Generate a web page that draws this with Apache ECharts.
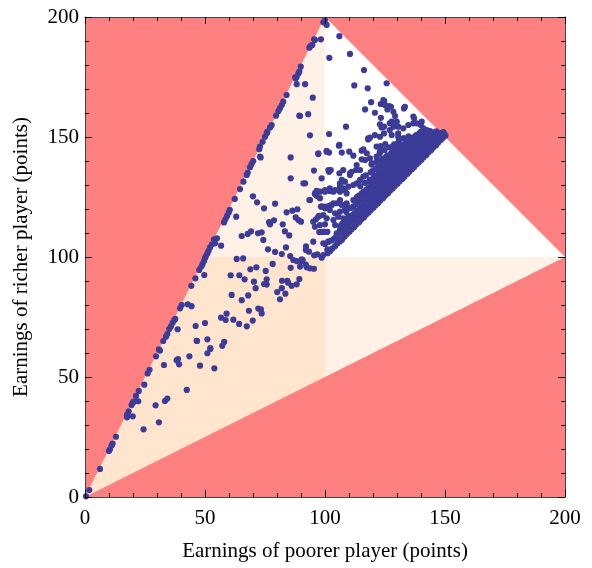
<!DOCTYPE html>
<html><head><meta charset="utf-8">
<script src="https://cdn.jsdelivr.net/npm/echarts@6/dist/echarts.min.js"></script>
<style>html,body{margin:0;padding:0;background:#fff}#c{width:592px;height:568px}</style>
</head><body><div id="c"></div>
<script>
const xTicks = [0, 50, 100, 150, 200];
const yTicks = [0, 50, 100, 150, 200];
const xTitle = 'Earnings of poorer player (points)';
const yTitle = 'Earnings of richer player (points)';

// background regions (data-space vertices)
const redUpperLeft = [[0,0],[100,200],[0,200]];
const redLowerRight = [[0,0],[200,0],[200,100]];
const redUpperRight = [[100,200],[200,200],[200,100]];
const peachUpper = [[0,100],[100,100],[100,200],[0,200]];
const peachRight = [[100,0],[200,0],[200,100],[100,100]];
const peachCorner = [[0,0],[100,0],[100,100],[0,100]];

// observed points: along the y = 2x edge
const diagonalPoints = [[0.4,0.3],[1.8,2.9],[6.25,11.7],[10,19.2],[10.4,19.9],[11.1,21.5],[11.5,22.2],[12.9,25.1],[17.5,34.2],[17.5,33.2],[18.2,35.7],[19.4,38.3],[19.9,39.3],[20.3,39.7],[21.25,42.1],[22.4,44.2],[24.7,46.8],[26.1,51.5],[26.9,53],[29.6,58.6],[31.25,61],[30.8,61.5],[32.6,65],[33.75,66.8],[34.3,67.9],[35.1,70],[35.8,71],[36.5,72.6],[37.2,73.75],[37.6,74.2],[39.6,78.6],[40.3,80],[44.3,88],[46,91.1],[47.6,94.6],[48.5,96],[49,97.1],[49.6,98.3],[50,99.5],[50.4,100.4],[51,101.5],[51.5,102.6],[52.1,104],[52.9,105.3],[53.75,107.4],[55,107.8],[54.2,105.7],[57.9,114.4],[58.5,115.7],[59.2,117.1],[59.9,118.5],[60.3,119.6],[62.4,124.2],[64.6,128.3],[66,131.4],[67.4,134.2],[67.8,135.1],[68.75,137.4],[69.4,138.75],[70.1,140],[72.6,144.9],[72.9,146],[74,148],[75,150.1],[75.7,151.5],[77.1,154],[77.8,155],[76,152.2],[79.6,158.9],[80.6,160.8],[81.25,162],[82,163.3],[82.6,164.7],[84,167.5],[87.6,174.9],[87.8,174.4],[88.2,175.1],[88.9,176.5],[89.3,177.2],[89.9,179.3],[93.5,187.2],[94,188],[94.7,188.3],[95.5,190.7],[95.8,190.4],[99.3,197.8],[100,198.75],[100.7,196.7]];

// observed points: lower-left region
const lowerPoints = [[22.2,39.9],[24.4,28.2],[29.4,38.2],[30.8,31.1],[19.9,33.6],[32.9,55],[33.3,40],[34.3,41],[38.2,57],[38.75,57.5],[39.2,55.3],[43.5,58.6],[42.4,44.6],[46.7,65],[47.9,54.7],[51,59.9],[52.2,61.7],[53.9,53.6],[57.2,63],[58,64.6],[38.6,69.9],[42.8,80.3],[44.4,79.5],[49.7,92.5],[56.7,104.7],[63,116.8],[46.1,71.25],[50,72.5],[46.5,65.1],[51,65.7],[52.2,62],[56.7,74.7],[58.6,73.75],[59,76.4],[61.8,73.9],[64.2,72.1],[67.4,71.1],[69.9,73.5],[61.1,84.2],[65.3,82],[68,84],[68.3,77.6],[72.2,78.5],[60.7,92.4],[64.3,92.4],[66.5,90.7],[70.4,89.7],[71.1,87],[63.2,99.2],[65.9,99.4],[68.9,94.9],[71.4,95.7],[65.3,108.75],[67.8,109.6],[69.2,110.7],[72.1,109.9],[70,125.3],[71.7,122.8],[74.6,120.3],[79.2,122.2],[84,118.6],[86.4,119.3],[88.5,119.9],[76.7,114.5],[77.1,113.6],[78.75,115.3],[82.4,113.6],[87.8,116.5],[88.9,115.4],[90,114.7],[73.6,110.3],[74.3,107.1],[83.3,110.7],[85.1,109],[93.5,123.75],[95.8,126.25],[95.1,114.7],[96.25,115.7],[97.6,117.1],[98.6,121],[100,120.3],[102,121.4],[95.8,112.6],[97.6,110.4],[98.6,110.5],[100,113.6],[100,110.5],[76.25,103.2],[79.2,102.1],[82,101.25],[83.75,104],[85.5,100.4],[86.8,98.75],[88.2,98.3],[90.3,99],[92.1,104.4],[92,102.9],[93.3,102.2],[95.1,106.4],[95.5,100.7],[96.8,101.1],[98.6,99.7],[99.3,100.8],[101.4,106.4],[100,105.4],[101.1,103.2],[75.3,94.2],[78.2,97.1],[85.7,95.5],[89.9,98.2],[90.7,98.75],[89.6,96],[92,96.8],[92.4,95.7],[93.75,95.3],[95.4,95.1],[74.6,88.75],[75.7,90.7],[75.7,88.5],[82.1,90.1],[84.3,90.1],[84.6,89.3],[86.1,88],[88.2,88.6],[89.3,90.8],[80.1,85.4],[82,87],[83.5,84.7],[81.25,82.4],[73.3,78.2],[73.6,76.5]];

// observed points: around (100,100)-(110,128)
const middlePoints = [[95.8,126.5],[96.5,125.5],[97.9,127.2],[100,127.2],[102,127.5],[104.2,127.9],[106.25,127.2],[108.3,127.9],[109,126.5],[98.3,121],[100.7,121],[102.8,121.7],[104.9,122.4],[107,121.7],[109,122.4],[102,119.6],[104.2,118.2],[106.25,118.9],[108.3,119.6],[109.7,120.3],[97.2,116.8],[99.3,117.5],[100.7,116.1],[103.5,115.4],[105.5,116.8],[107.6,116.1],[109.7,116.8],[97.9,113.3],[104.2,113.3],[106.25,111.25],[107.6,110.5],[109,112],[104.9,109.9],[107,107.1],[105.2,107.1],[99.3,110.5],[101,110.5],[99.3,105.7],[101.4,106.4],[101,102.9]];

// observed points: upper sparse region
const upperPoints = [[85.7,141.5],[85.7,132.8],[89.3,158.9],[88.2,172],[91.7,172],[94.9,166.4],[89.6,158.75],[93,159.5],[73.2,141.5],[72.9,141.8],[93.75,150.7],[97.2,142.9],[101.7,151.25],[98.3,190.7],[91.7,130.7],[91,130.7],[98.6,132.8],[101.7,135.5],[102.4,136.25],[100.7,144.2],[97.2,143.2],[100.7,143.9],[95.4,136],[101.4,136.25],[96.5,127.6],[100,127.9],[102,128.6],[103.5,127.2],[93.75,123.75],[97.9,124.5],[99.3,121],[103.5,122.4],
[101.8,183],[110.4,184.6],[106,192],[116.25,177.9],[112.2,171.5],[117.8,170.3],[125.7,172.4],[119.2,164.5],[123.2,163.75],[124.7,165],[126.7,162.9],[126,161.5],[116.7,161.5],[120.8,160.1],[123.3,158],[122.9,155.3],[123.6,154],[108.75,154.3],[128.5,160.5],[129.2,158.75],[127.8,156.4],[129.9,156.4],[128.5,154.3],[130.5,154.3],[132.9,161.9],[127.5,162.6],[118.75,149.7],[118,149],[120.8,150.8],[121.5,146],[124.6,151.5],[105.8,146.4],[101.7,143.5],[110.1,143.9],[111.8,142.2],[115.3,144.3],[117.4,143.2],[115.3,140.7],[118.75,141.1],[106,134.9],[110.4,134.9],[112.9,136.25],[106.25,129.3],[108.3,131.4],[113.2,130.7],[116,133.5],[114.6,132.1],[124.3,165.4],[125,163.3],[133.3,162.6],[136.8,158.5],[136.8,155.7],[140.3,156.4],[134.7,155],[127,152.9],[132.6,153.6],[124.6,154.3],[122.9,150.1],[130.5,151.5],[137.1,157.8],[138.2,155.7],[139.9,155],[141,153.6],[142.4,152.9],[143.75,152.2],[106,146.7],[107,143.5],[116,144.9],[118,149.4],[127,155.7],[127.8,150.8],[130.5,150.1],[107.6,136.25],[111.1,135.5],[107,132.1],[110.4,134.2],[113.2,138.3],[114.6,136.25],[116.7,140.4],[119.5,139],[121.5,141.8],[122.9,143.9],[106.25,130.7],[107.6,128.6],[109.7,129.3],[111.8,130],[106.25,123.75],[109,121.7],[111.8,123.75],[115.3,125.8],[117.4,127.2],[120.1,129.3],[121.5,131.4],[122.9,132.8],[125.7,134.9],[127.1,137.6],[129.2,139],[130.5,141.8]];

// estimated points: dense cluster near (150,150)
const clusterPoints = [[150.2,150.6],[149.8,151.1],[149.1,149.6],[148.9,150.9],[149.3,152.0],[148.2,148.7],[147.9,150.1],[148.4,151.6],[147.1,147.6],[146.8,149.0],[147.3,150.4],[146.9,151.8],[146.2,146.5],[145.9,148.1],[146.4,149.6],[146.0,151.0],[146.3,152.4],[145.1,145.6],[144.8,147.2],[145.3,148.6],[144.9,150.1],[145.2,151.7],[144.2,144.5],[143.9,146.1],[144.3,147.7],[144.0,149.2],[144.4,150.7],[143.8,152.5],[143.1,143.6],[142.8,145.2],[143.3,146.8],[142.9,148.3],[143.2,149.9],[143.0,151.4],[142.2,142.5],[141.9,144.3],[142.3,145.9],[141.8,147.5],[142.1,149.0],[142.4,150.6],[141.7,152.3],[141.1,141.6],[140.8,143.2],[141.3,144.9],[140.9,146.6],[141.2,148.2],[140.7,149.8],[141.0,151.5],[140.2,140.5],[139.9,142.2],[140.3,143.9],[139.8,145.6],[140.1,147.3],[140.4,148.9],[139.7,150.5],[140.0,152.2],[139.1,139.5],[138.8,141.3],[139.2,143.0],[138.9,144.8],[139.3,146.4],[138.7,148.1],[139.0,149.7],[139.4,151.6],[138.2,138.6],[137.9,140.3],[138.3,142.1],[137.8,143.9],[138.1,145.6],[138.4,147.3],[137.7,149.0],[138.0,150.8],[137.1,137.4],[136.8,139.3],[137.2,141.1],[136.9,142.9],[137.3,144.7],[136.7,146.5],[137.0,148.3],[137.4,150.2],[136.2,136.6],[135.9,138.4],[136.3,140.2],[135.8,142.0],[136.1,143.9],[136.4,145.7],[135.7,147.5],[136.0,149.6],[135.1,135.5],[134.8,137.4],[135.2,139.3],[134.9,141.2],[135.3,143.0],[134.7,144.9],[135.0,146.8],[135.4,148.7],[134.8,150.3],[134.2,134.6],[133.9,136.5],[134.3,138.4],[133.8,140.3],[134.1,142.2],[134.4,144.1],[133.7,146.0],[134.0,147.9],[133.1,133.4],[132.8,135.5],[133.2,137.4],[132.9,139.4],[133.3,141.3],[132.7,143.2],[133.0,145.2],[133.4,147.4],[132.8,149.5],[132.2,132.5],[131.9,134.6],[132.3,136.6],[131.8,138.5],[132.1,140.5],[132.4,142.4],[131.7,144.5],[132.0,146.6],[131.1,131.6],[130.8,133.6],[131.2,135.6],[130.9,137.6],[131.3,139.6],[130.7,141.6],[131.0,143.7],[131.4,145.9],[130.8,148.4],[130.2,130.5],[129.9,132.6],[130.3,134.7],[129.8,136.7],[130.1,138.7],[130.4,140.8],[129.7,142.9],[130.0,145.1],[130.3,147.3],[129.1,129.6],[128.8,131.7],[129.2,133.8],[128.9,135.8],[129.3,137.9],[128.7,140.0],[129.0,142.2],[129.4,144.4],[128.8,146.9],[128.2,128.5],[127.9,130.7],[128.3,132.8],[127.8,134.9],[128.1,137.0],[128.4,139.2],[127.7,141.4],[128.0,143.6],[128.3,146.0],[127.1,127.6],[126.8,129.7],[127.2,131.9],[126.9,134.0],[127.3,136.2],[126.7,138.4],[127.0,140.6],[127.4,143.0],[126.8,145.7],[126.2,126.5],[125.9,128.8],[126.3,131.0],[125.8,133.2],[126.1,135.4],[126.4,137.6],[125.7,139.9],[126.0,142.3],[125.1,125.6],[124.8,127.8],[125.2,130.1],[124.9,132.3],[125.3,134.5],[124.7,136.8],[125.0,139.1],[125.4,141.6],[124.8,144.5],[125.1,147.0],[124.2,124.5],[123.9,126.8],[124.3,129.1],[123.8,131.4],[124.1,133.7],[124.4,136.0],[123.7,138.4],[124.0,141.0],[123.1,123.6],[122.8,125.9],[123.2,128.2],[122.9,130.5],[123.3,132.9],[122.7,135.3],[123.0,137.7],[123.4,140.4],[122.8,143.2],[123.1,146.2],[122.2,122.5],[121.9,124.9],[122.3,127.3],[121.8,129.7],[122.1,132.1],[122.4,134.6],[121.7,137.1],[121.1,121.6],[120.8,124.0],[121.2,126.4],[120.9,128.8],[121.3,131.3],[120.7,133.8],[121.0,136.5],[121.4,139.6],[120.2,120.5],[119.9,123.0],[120.3,125.5],[119.8,128.0],[120.1,130.5],[120.4,133.1],[119.7,135.8],[119.1,119.6],[118.8,122.1],[119.2,124.6],[118.9,127.1],[119.3,129.7],[118.7,132.3],[119.0,135.2],[119.4,138.5],[118.2,118.5],[117.9,121.1],[118.3,123.6],[117.8,126.2],[118.1,128.8],[118.4,131.5],[117.1,117.6],[116.8,120.2],[117.2,122.8],[116.9,125.4],[117.3,128.1],[116.7,130.9],[117.0,134.0],[116.2,116.5],[115.9,119.2],[116.3,121.8],[115.8,124.5],[116.1,127.2],[115.1,115.6],[114.8,118.3],[115.2,121.0],[114.9,123.7],[115.3,126.5],[114.7,129.5],[114.2,114.5],[113.9,117.3],[114.3,120.0],[113.8,122.8],[114.1,125.6],[113.1,113.6],[112.8,116.4],[113.2,119.2],[112.9,122.0],[113.3,125.0],[112.2,112.5],[111.9,115.4],[112.3,118.2],[111.8,121.1],[111.1,111.6],[110.8,114.5],[111.2,117.4],[110.9,120.4],[110.2,110.5],[109.9,113.5],[110.3,116.5],[109.1,109.6],[108.8,112.6],[109.2,115.7],[108.9,118.8],[108.2,108.5],[107.9,111.6],[108.3,114.8],[107.1,107.6],[106.8,110.7],[107.2,113.9],[106.2,106.5],[105.9,109.7],[106.3,112.9],[105.1,105.6],[104.8,108.8],[104.2,104.5],[103.9,107.8],[103.1,103.6],[102.8,106.9],[102.2,102.5],[101.1,101.6]];

const COLORS = {red:'#FF8080', peach:'#FFF1E5', peachDark:'#FFE5CE', dot:'#3C3C98', axis:'#444'};
const FONT = 'Liberation Serif';

function poly(pts, color, z) {
  return {
    type: 'custom', silent: true, z: z, data: pts, clip: true,
    renderItem: function (params, api) {
      if (params.dataIndex !== 0) return null;
      return {type: 'polygon', shape: {points: pts.map(p => api.coord(p))}, style: {fill: color}};
    }
  };
}

function axisCommon(showLabel, pos) {
  return {
    type: 'value', min: 0, max: 200, interval: 50, position: pos, z: 10,
    axisLine: {show: true, onZero: false, lineStyle: {color: COLORS.axis, width: 1}},
    axisTick: {show: true, inside: true, length: 7, lineStyle: {color: '#000', width: 1}},
    minorTick: {show: true, splitNumber: 5, length: 4, lineStyle: {color: '#000', width: 1}},
    splitLine: {show: false},
    axisLabel: {show: showLabel, fontFamily: FONT, fontSize: 21, color: '#000', margin: showLabel ? 8 : 0}
  };
}

const chart = echarts.init(document.getElementById('c'), null, {renderer: 'canvas'});
const xb = axisCommon(true, 'bottom');
xb.name = xTitle; xb.nameLocation = 'middle'; xb.nameGap = 44;
xb.nameTextStyle = {fontFamily: FONT, fontSize: 21, color: '#000'};
xb.axisLabel.margin = 11;
const yl = axisCommon(true, 'left');
yl.name = yTitle; yl.nameLocation = 'middle'; yl.nameGap = 53;
yl.nameTextStyle = {fontFamily: FONT, fontSize: 21, color: '#000'};
yl.axisLabel.margin = 6;

chart.setOption({
  animation: false,
  backgroundColor: '#fff',
  grid: {left: 85, top: 17, width: 480, height: 480, show: true, backgroundColor: '#fff', borderWidth: 0},
  xAxis: [xb, axisCommon(false, 'top')],
  yAxis: [yl, axisCommon(false, 'right')],
  series: [
    poly(peachUpper, COLORS.peach, 1),
    poly(peachRight, COLORS.peach, 1),
    poly(peachCorner, COLORS.peachDark, 1),
    poly(redUpperLeft, COLORS.red, 2),
    poly(redLowerRight, COLORS.red, 2),
    poly(redUpperRight, COLORS.red, 2),
    {
      type: 'scatter', z: 5, symbol: 'circle', symbolSize: 6.2, silent: true,
      itemStyle: {color: COLORS.dot, opacity: 1},
      data: [].concat(diagonalPoints, lowerPoints, middlePoints, upperPoints, clusterPoints)
    }
  ]
});
</script></body></html>
